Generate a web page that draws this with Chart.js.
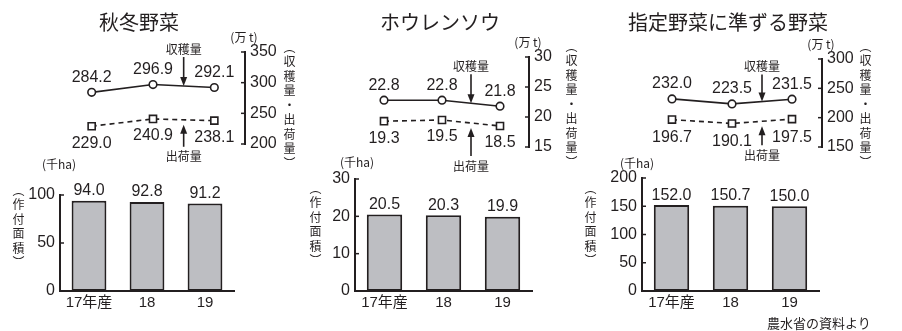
<!DOCTYPE html>
<html><head><meta charset="utf-8">
<script src="https://cdn.jsdelivr.net/npm/chart.js@4/dist/chart.umd.min.js"></script>
<style>
html,body{margin:0;padding:0;background:#fff;width:902px;height:331px;overflow:hidden;}
#wrap{position:relative;width:902px;height:331px;}
canvas{position:absolute;left:0;top:0;}
.t{position:absolute;font-family:"Noto Sans CJK JP";color:#231f20;white-space:nowrap;line-height:1;}
.title{font-size:20px;transform:translate(-50%,-50%);}
.unit{font-size:12px;transform:translate(-50%,-50%);}
.vt{writing-mode:vertical-rl;font-size:12px;letter-spacing:2.5px;}
.src{font-size:13px;}
</style></head><body><div id="wrap">
<canvas id="l1" width="902" height="331"></canvas>
<canvas id="l2" width="902" height="331"></canvas>
<canvas id="l3" width="902" height="331"></canvas>
<canvas id="b1" width="902" height="331"></canvas>
<canvas id="b2" width="902" height="331"></canvas>
<canvas id="b3" width="902" height="331"></canvas>
<div class="t title" style="left:139px;top:22px;">秋冬野菜</div>
<div class="t title" style="left:440px;top:22px;">ホウレンソウ</div>
<div class="t title" style="left:728px;top:22px;">指定野菜に準ずる野菜</div>
<div class="t vt" style="left:283px;top:41px;">（収穫量・出荷量）</div>
<div class="t vt" style="left:565px;top:40px;">（収穫量・出荷量）</div>
<div class="t vt" style="left:859px;top:40px;">（収穫量・出荷量）</div>
<div class="t vt" style="left:12px;top:184px;">（作付面積）</div>
<div class="t vt" style="left:309px;top:182px;">（作付面積）</div>
<div class="t vt" style="left:584px;top:182px;">（作付面積）</div>
<div class="t unit" style="left:59px;top:164px;">(千ha)</div>
<div class="t unit" style="left:357px;top:162px;">(千ha)</div>
<div class="t unit" style="left:637px;top:163px;">(千ha)</div>
<div class="t src" style="left:767px;top:316px;">農水省の資料より</div>
</div>
<script>
// ---- data ----
const years = ['17年産', '18', '19'];
const autumnHarvest = [284.2, 296.9, 292.1];
const autumnShipment = [229.0, 240.9, 238.1];
const autumnArea = [94.0, 92.8, 91.2];
const spinachHarvest = [22.8, 22.8, 21.8];
const spinachShipment = [19.3, 19.5, 18.5];
const spinachArea = [20.5, 20.3, 19.9];
const quasiHarvest = [232.0, 223.5, 231.5];
const quasiShipment = [196.7, 190.1, 197.5];
const quasiArea = [152.0, 150.7, 150.0];
const autumnTonAxis = [200, 350, 50];
const spinachTonAxis = [15, 30, 5];
const quasiTonAxis = [150, 300, 50];
const autumnAreaAxis = [0, 100, 50];
const spinachAreaAxis = [0, 30, 10];
const quasiAreaAxis = [0, 200, 50];

// ---- style / layout ----
const INK = '#231f20';
const BAR_FILL = '#bdbec2';
const NUM_FONT = '"Liberation Sans", "Noto Sans CJK JP"';
const JP_FONT = '"Noto Sans CJK JP"';
const W = 902, H = 331, AXW = 40, XH = 25;

function arrow(ctx, x, y0, y1) {
  const dir = y1 > y0 ? 1 : -1;
  ctx.beginPath();
  ctx.moveTo(x, y0);
  ctx.lineTo(x, y1 - dir * 7);
  ctx.stroke();
  ctx.beginPath();
  ctx.moveTo(x, y1);
  ctx.lineTo(x - 3.5, y1 - dir * 9);
  ctx.lineTo(x + 3.5, y1 - dir * 9);
  ctx.closePath();
  ctx.fill();
}

const lineDeco = {
  id: 'lineDeco',
  afterDatasetsDraw(chart, args, o) {
    const ctx = chart.ctx;
    ctx.save();
    ctx.fillStyle = INK; ctx.strokeStyle = INK;
    ctx.textAlign = 'center'; ctx.textBaseline = 'middle';
    ctx.font = '16px ' + NUM_FONT;
    chart.data.datasets.forEach((ds, di) => {
      chart.getDatasetMeta(di).data.forEach((pt, i) => {
        const dy = di === 0 ? -o.above : o.below;
        ctx.fillText(ds.data[i].toFixed(1), pt.x, pt.y + dy);
      });
    });
    const ys = chart.scales.y;
    ctx.lineWidth = 1.5;
    ys.ticks.forEach(t => {
      const y = ys.getPixelForValue(t.value);
      ctx.beginPath(); ctx.moveTo(ys.left, y); ctx.lineTo(ys.left - 4, y); ctx.stroke();
    });
    ctx.font = '12px ' + JP_FONT;
    ctx.fillText('(万 t)', ys.left - 1, ys.top - 15);
    const m0 = chart.getDatasetMeta(0).data, m1 = chart.getDatasetMeta(1).data;
    const ax = (m0[1].x + m0[2].x) / 2;
    const yTop = (m0[1].y + m0[2].y) / 2;
    ctx.lineWidth = 1.6;
    arrow(ctx, ax, yTop - o.downLen, yTop);
    ctx.fillText('収穫量', ax, yTop - o.downLen - 8);
    const yBot = (m1[1].y + m1[2].y) / 2 + 5;
    arrow(ctx, ax, yBot + o.upLen, yBot);
    ctx.fillText('出荷量', ax, yBot + o.upLen + 10);
    ctx.restore();
  }
};

const barDeco = {
  id: 'barDeco',
  afterDatasetsDraw(chart) {
    const ctx = chart.ctx;
    ctx.save();
    ctx.fillStyle = INK; ctx.strokeStyle = INK;
    ctx.textAlign = 'center'; ctx.textBaseline = 'middle';
    ctx.font = '16px ' + NUM_FONT;
    const ds = chart.data.datasets[0];
    chart.getDatasetMeta(0).data.forEach((b, i) => {
      ctx.fillText(ds.data[i].toFixed(1), b.x, b.y - 10);
    });
    const ys = chart.scales.y;
    ctx.lineWidth = 1.5;
    ys.ticks.forEach(t => {
      const y = ys.getPixelForValue(t.value);
      ctx.beginPath(); ctx.moveTo(ys.right, y); ctx.lineTo(ys.right + 4, y); ctx.stroke();
    });
    ctx.restore();
  }
};

function makeLine(id, harvest, shipment, axis, box, deco) {
  return new Chart(document.getElementById(id), {
    type: 'line',
    data: {
      labels: years,
      datasets: [
        { data: harvest, borderColor: INK, borderWidth: 1.6, pointStyle: 'circle', pointRadius: 3.8,
          pointBackgroundColor: '#fff', pointBorderColor: INK, pointBorderWidth: 1.6, tension: 0 },
        { data: shipment, borderColor: INK, borderWidth: 1.6, borderDash: [5, 4], pointStyle: 'rect', pointRadius: 5,
          pointBackgroundColor: '#fff', pointBorderColor: INK, pointBorderWidth: 1.6, tension: 0 }
      ]
    },
    options: {
      responsive: false, animation: false, events: [],
      layout: { padding: { left: box.left, top: box.top, bottom: H - box.bottom, right: W - box.right - AXW } },
      plugins: { legend: { display: false }, tooltip: { enabled: false }, lineDeco: deco },
      scales: {
        x: { type: 'category', display: false, offset: true },
        y: { position: 'right', min: axis[0], max: axis[1],
             ticks: { stepSize: axis[2], padding: 5, color: INK, font: { family: NUM_FONT, size: 16 } },
             grid: { display: false, drawTicks: false }, border: { display: true, color: INK, width: 2 },
             afterFit: s => { s.width = AXW; } }
      }
    },
    plugins: [lineDeco]
  });
}

function makeBar(id, area, axis, box) {
  return new Chart(document.getElementById(id), {
    type: 'bar',
    data: { labels: years, datasets: [{ data: area, backgroundColor: BAR_FILL, borderColor: INK, borderWidth: 2,
      borderSkipped: false, barPercentage: 0.6, categoryPercentage: 1 }] },
    options: {
      responsive: false, animation: false, events: [],
      layout: { padding: { left: box.left - AXW, top: box.top, bottom: H - box.bottom - XH, right: W - box.right } },
      plugins: { legend: { display: false }, tooltip: { enabled: false } },
      scales: {
        x: { ticks: { padding: 3, color: INK, font: { family: NUM_FONT, size: 15 } },
             grid: { display: false, drawTicks: false }, border: { display: true, color: INK, width: 2 },
             afterFit: s => { s.height = XH; } },
        y: { min: axis[0], max: axis[1],
             ticks: { stepSize: axis[2], padding: 5, color: INK, font: { family: NUM_FONT, size: 16 } },
             grid: { display: false, drawTicks: false }, border: { display: true, color: INK, width: 2 },
             afterFit: s => { s.width = AXW; } }
      }
    },
    plugins: [barDeco]
  });
}

makeLine('l1', autumnHarvest, autumnShipment, autumnTonAxis, { left: 61, right: 245, top: 52, bottom: 144 },
  { above: 15, below: 17, downLen: 29, upLen: 22 });
makeLine('l2', spinachHarvest, spinachShipment, spinachTonAxis, { left: 355, right: 529, top: 57, bottom: 147 },
  { above: 15, below: 17, downLen: 29, upLen: 28 });
makeLine('l3', quasiHarvest, quasiShipment, quasiTonAxis, { left: 642, right: 822, top: 59, bottom: 147 },
  { above: 15, below: 18, downLen: 27, upLen: 19 });
makeBar('b1', autumnArea, autumnAreaAxis, { left: 60, right: 234, top: 195, bottom: 291 });
makeBar('b2', spinachArea, spinachAreaAxis, { left: 355, right: 532, top: 179, bottom: 291 });
makeBar('b3', quasiArea, quasiAreaAxis, { left: 642, right: 819, top: 178, bottom: 291 });
</script>
</body></html>
